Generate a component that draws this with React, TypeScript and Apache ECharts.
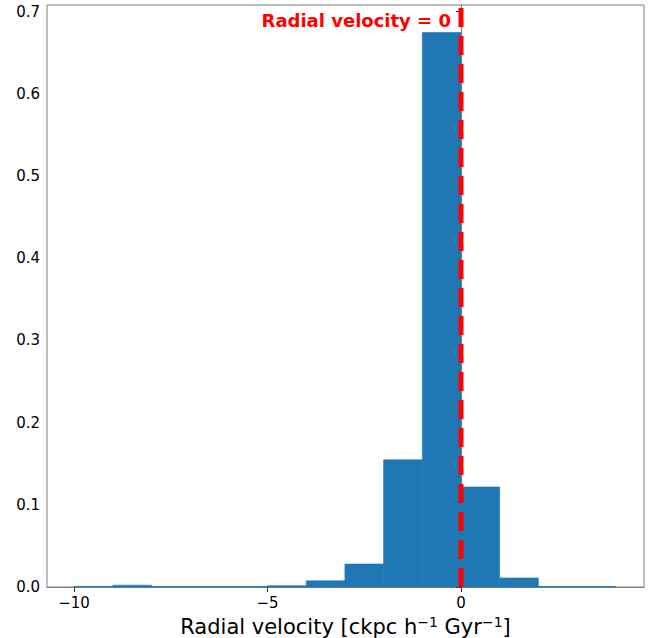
import React, { useEffect, useRef } from 'react';
import * as echarts from 'echarts';

// Histogram bins (unit width) of radial velocity and their normalised densities
const binEdges = [-10, -9, -8, -7, -6, -5, -4, -3, -2, -1, 0, 1, 2, 3, 4];
const density = [
  0.0007, 0.0022, 0.0006, 0.0005, 0.0005, 0.0016, 0.0075, 0.028, 0.1547, 0.6745, 0.1217,
  0.011, 0.0006, 0.0006,
];
const xTicks = [-10, -5, 0];
const yTicks = [0, 0.1, 0.2, 0.3, 0.4, 0.5, 0.6, 0.7];
const xRange = [-10.7, 4.73];
const yRange = [0, 0.708];
const zeroLabel = 'Radial velocity = 0';
const zeroLabelAt = [0, 0.689];

const FONT = 'DejaVu Sans';
const minus = (s: string) => s.replace('-', '\u2212');

export default function App() {
  const ref = useRef<HTMLDivElement>(null);

  useEffect(() => {
    if (!ref.current) return;
    const chart = echarts.init(ref.current, undefined, { renderer: 'svg' });

    const bars = density.map((v, i) => [binEdges[i], binEdges[i + 1], v]);

    chart.setOption({
      animation: false,
      grid: {
        left: 47,
        right: 7,
        top: 5,
        bottom: 51,
        outerBoundsMode: 'none',
        containLabel: false,
        show: true,
        borderColor: '#808080',
        borderWidth: 1,
        backgroundColor: 'transparent',
      },
      xAxis: {
        type: 'value',
        min: xRange[0],
        max: xRange[1],
        splitLine: { show: false },
        axisLine: { show: true, onZero: false, lineStyle: { color: '#808080', width: 1 } },
        axisTick: {
          show: true,
          customValues: xTicks,
          length: 5,
          lineStyle: { color: '#333', width: 1 },
        },
        axisLabel: {
          customValues: xTicks,
          formatter: (v: number) => minus(String(v)),
          fontFamily: FONT,
          fontSize: 15,
          color: '#000',
          margin: 8,
        },
        name: 'Radial velocity [ckpc h{sup|\u22121} Gyr{sup|\u22121}]',
        nameLocation: 'middle',
        nameGap: 19,
        nameTextStyle: {
          fontFamily: FONT,
          fontSize: 21,
          color: '#000',
          verticalAlign: 'top',
          rich: {
            sup: {
              fontFamily: FONT,
              fontSize: 14,
              color: '#000',
              verticalAlign: 'top',
              padding: [0, 0, 10, 0],
            },
          },
        },
      },
      yAxis: {
        type: 'value',
        min: yRange[0],
        max: yRange[1],
        splitLine: { show: false },
        axisLine: { show: true, lineStyle: { color: '#808080', width: 1 } },
        axisTick: {
          show: true,
          customValues: yTicks,
          length: 5,
          lineStyle: { color: '#333', width: 1 },
        },
        axisLabel: {
          customValues: yTicks,
          formatter: (v: number) => v.toFixed(1),
          fontFamily: FONT,
          fontSize: 15,
          color: '#000',
          margin: 7,
        },
      },
      series: [
        {
          type: 'custom',
          data: bars,
          encode: { x: [0, 1], y: 2 },
          renderItem: (params: any, api: any) => {
            const p0 = api.coord([api.value(0), api.value(2)]);
            const p1 = api.coord([api.value(1), 0]);
            return {
              type: 'rect',
              shape: { x: p0[0], y: p0[1], width: p1[0] - p0[0], height: p1[1] - p0[1] },
              style: { fill: '#1f77b4', stroke: '#1f77b4', lineWidth: 0.6 },
            };
          },
          z: 2,
        },
        {
          type: 'line',
          data: [
            [0, yRange[0]],
            [0, yRange[1]],
          ],
          symbol: 'none',
          lineStyle: { color: '#ff0000', width: 5, type: [19, 9] },
          z: 5,
        },
      ],
    });

    // Annotation next to the zero line, placed in data coordinates
    const p = chart.convertToPixel({ gridIndex: 0 }, zeroLabelAt) as number[];
    chart.setOption({
      graphic: [
        {
          type: 'text',
          x: p[0] - 10,
          y: p[1],
          z: 10,
          style: {
            text: zeroLabel,
            fill: '#ff0000',
            fontFamily: FONT,
            fontWeight: 'bold',
            fontSize: 18,
            align: 'right',
            verticalAlign: 'middle',
          },
        },
      ],
    });

    return () => chart.dispose();
  }, []);

  return <div ref={ref} style={{ width: 651, height: 638, position: 'absolute', left: 0, top: 0 }} />;
}
